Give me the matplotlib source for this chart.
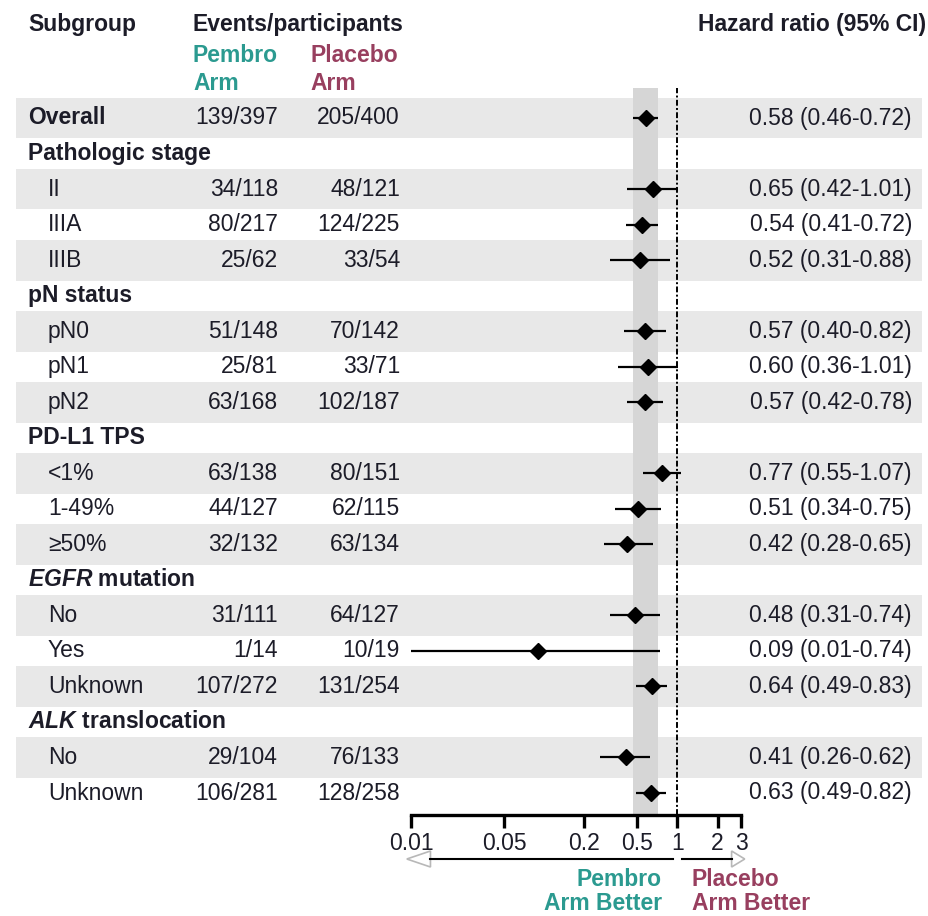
import numpy as np
import matplotlib
matplotlib.use("Agg")
import matplotlib.pyplot as plt
from matplotlib.transforms import blended_transform_factory
from matplotlib.patches import Polygon

plt.rcParams['font.family'] = ['Liberation Sans', 'DejaVu Sans']
plt.rcParams['mathtext.fontset'] = 'custom'
plt.rcParams['mathtext.bfit'] = 'Liberation Sans:italic:bold'
plt.rcParams['mathtext.rm'] = 'Liberation Sans'

# ---- data ----
labels = ["Overall", "Pathologic stage", "II", "IIIA", "IIIB",
          "pN status", "pN0", "pN1", "pN2",
          "PD-L1 TPS", "<1%", "1-49%", "≥50%",
          "$\\mathbfit{EGFR}$ mutation", "No", "Yes", "Unknown",
          "$\\mathbfit{ALK}$ translocation", "No", "Unknown"]
is_header = [False, True, False, False, False,
             True, False, False, False,
             True, False, False, False,
             True, False, False, False,
             True, False, False]
pembro = ["139/397", "", "34/118", "80/217", "25/62",
          "", "51/148", "25/81", "63/168",
          "", "63/138", "44/127", "32/132",
          "", "31/111", "1/14", "107/272",
          "", "29/104", "106/281"]
placebo = ["205/400", "", "48/121", "124/225", "33/54",
           "", "70/142", "33/71", "102/187",
           "", "80/151", "62/115", "63/134",
           "", "64/127", "10/19", "131/254",
           "", "76/133", "128/258"]
hr = [0.58, None, 0.65, 0.54, 0.52,
      None, 0.57, 0.60, 0.57,
      None, 0.77, 0.51, 0.42,
      None, 0.48, 0.09, 0.64,
      None, 0.41, 0.63]
lo = [0.46, None, 0.42, 0.41, 0.31,
      None, 0.40, 0.36, 0.42,
      None, 0.55, 0.34, 0.28,
      None, 0.31, 0.01, 0.49,
      None, 0.26, 0.49]
hi = [0.72, None, 1.01, 0.72, 0.88,
      None, 0.82, 1.01, 0.78,
      None, 1.07, 0.75, 0.65,
      None, 0.74, 0.74, 0.83,
      None, 0.62, 0.82]
ticks = [0.01, 0.05, 0.2, 0.5, 1, 2, 3]

TEAL = "#2b9a90"
MAROON = "#983f5f"
INK = "#1c1c28"
FS = 16.5

W, H = 929, 916
fig = plt.figure(figsize=(W / 100, H / 100), dpi=100)

# forest axes: x 0.01..3 spans px 411..741, rows 0..19 at px 118..793
top_px, bot_px = 88, 815
row0, pitch = 118, (793 - 118) / 19
ax = fig.add_axes([411 / W, 1 - bot_px / H, 330 / W, (bot_px - top_px) / H])
ax.set_xscale("log")
ax.set_xlim(0.01, 3)
ax.set_ylim((bot_px - row0) / pitch, (top_px - row0) / pitch)
ax.patch.set_alpha(0)
for s in ["top", "left", "right"]:
    ax.spines[s].set_visible(False)
ax.spines["bottom"].set_linewidth(2.4)
ax.set_yticks([])
ax.set_xticks(ticks)
ax.set_xticklabels([f"{t:g}" for t in ticks], fontsize=FS, color=INK)
ax.xaxis.set_minor_locator(matplotlib.ticker.NullLocator())
ax.tick_params(axis="x", length=9, width=2.4, pad=3)

trow = blended_transform_factory(fig.transFigure, ax.transData)

# alternating row bands
shade = []
k = 0
for h in is_header:
    if h:
        shade.append(False)
        k = 0
    else:
        shade.append(k % 2 == 0)
        k += 1
for i, s in enumerate(shade):
    if s:
        ax.add_patch(plt.Rectangle((16 / W, i - 0.575), (922 - 16) / W, 1.15,
                                   transform=trow, color="#e8e8e8",
                                   clip_on=False, zorder=0, lw=0))

# overall CI band and reference line
ax.axvspan(lo[0], hi[0], color="#d6d6d6", zorder=1, lw=0)
ax.axvline(1, color="black", lw=1.4, ls=(0, (3, 1.2, 1, 1.2)), zorder=2)

# estimates with CIs
for i in range(len(labels)):
    if hr[i] is None:
        continue
    ax.plot([lo[i], hi[i]], [i, i], color="black", lw=1.6, zorder=3,
            solid_capstyle="butt")
    ax.plot(hr[i], i, marker="D", ms=8, color="black", zorder=4)

# row texts
for i, lab in enumerate(labels):
    bold = is_header[i] or i == 0
    x = 28 if bold else 48
    ax.text(x / W, i, lab, transform=trow, ha="left", va="center",
            fontsize=FS, fontweight="bold" if bold else "normal", color=INK)
    if pembro[i]:
        ax.text(278 / W, i, pembro[i], transform=trow, ha="right",
                va="center", fontsize=FS, color=INK)
        ax.text(400 / W, i, placebo[i], transform=trow, ha="right",
                va="center", fontsize=FS, color=INK)
    if hr[i] is not None:
        ax.text(912 / W, i, f"{hr[i]:.2f} ({lo[i]:.2f}-{hi[i]:.2f})",
                transform=trow, ha="right", va="center", fontsize=FS,
                color=INK)

# column headers
def ftext(px, py, s, **kw):
    fig.text(px / W, 1 - py / H, s, va="center", fontsize=FS, **kw)

ftext(28, 24, "Subgroup", fontweight="bold", color=INK)
ftext(193, 24, "Events/participants", fontweight="bold", color=INK)
ftext(926, 24, "Hazard ratio (95% CI)", fontweight="bold", color=INK, ha="right")
ftext(193, 56, "Pembro", fontweight="bold", color=TEAL)
ftext(193, 83, "Arm", fontweight="bold", color=TEAL)
ftext(310, 56, "Placebo", fontweight="bold", color=MAROON)
ftext(310, 83, "Arm", fontweight="bold", color=MAROON)

# direction arrows under the axis
tarr = blended_transform_factory(ax.transData, fig.transFigure)
ya = 1 - 859 / H
dh = 8 / H
ax.plot([0.014, 0.93], [ya, ya], transform=tarr, color="black", lw=1.5,
        clip_on=False)
ax.plot([1.08, 2.55], [ya, ya], transform=tarr, color="black", lw=1.5,
        clip_on=False)
ax.add_patch(Polygon([[0.0093, ya], [0.014, ya + dh], [0.014, ya - dh]],
                     closed=True, transform=tarr, fc="white", ec="#b8b8b8",
                     lw=1.2, clip_on=False))
ax.add_patch(Polygon([[3.2, ya], [2.55, ya + dh], [2.55, ya - dh]],
                     closed=True, transform=tarr, fc="white", ec="#b8b8b8",
                     lw=1.2, clip_on=False))

ftext(662, 879, "Pembro", fontweight="bold", color=TEAL, ha="right")
ftext(662, 904, "Arm Better", fontweight="bold", color=TEAL, ha="right")
ftext(692, 879, "Placebo", fontweight="bold", color=MAROON, ha="left")
ftext(692, 904, "Arm Better", fontweight="bold", color=MAROON, ha="left")

fig.savefig("out.png", dpi=100, facecolor="white")
